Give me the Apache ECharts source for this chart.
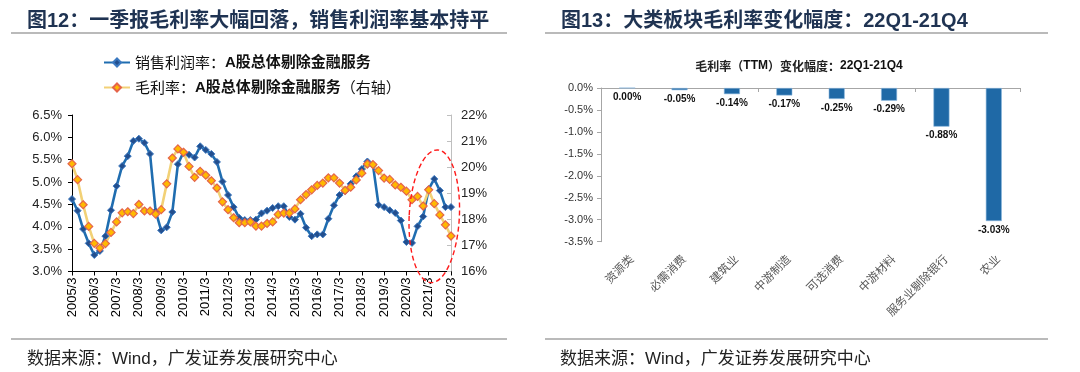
<!DOCTYPE html>
<html><head><meta charset="utf-8">
<script src="https://cdn.jsdelivr.net/npm/echarts@6/dist/echarts.min.js"></script>
<style>html,body{margin:0;padding:0;background:#fff}#c{width:1080px;height:372px}</style>
</head><body><div id="c"></div>
<script>
// ---------- data: left chart (quarterly, 2005/3 - 2022/3) ----------
const quarters = [
 '2005/3','2005/6','2005/9','2005/12','2006/3','2006/6','2006/9','2006/12',
 '2007/3','2007/6','2007/9','2007/12','2008/3','2008/6','2008/9','2008/12',
 '2009/3','2009/6','2009/9','2009/12','2010/3','2010/6','2010/9','2010/12',
 '2011/3','2011/6','2011/9','2011/12','2012/3','2012/6','2012/9','2012/12',
 '2013/3','2013/6','2013/9','2013/12','2014/3','2014/6','2014/9','2014/12',
 '2015/3','2015/6','2015/9','2015/12','2016/3','2016/6','2016/9','2016/12',
 '2017/3','2017/6','2017/9','2017/12','2018/3','2018/6','2018/9','2018/12',
 '2019/3','2019/6','2019/9','2019/12','2020/3','2020/6','2020/9','2020/12',
 '2021/3','2021/6','2021/9','2021/12','2022/3'
];
// 销售利润率 (left axis, %)
const salesMargin = [
 4.62,4.36,3.95,3.63,3.37,3.46,3.79,4.37,
 4.91,5.36,5.58,5.92,5.97,5.88,5.63,4.35,
 3.92,3.99,4.33,5.40,5.67,5.61,5.55,5.80,
 5.72,5.63,5.45,5.01,4.71,4.44,4.20,4.15,
 4.15,4.16,4.30,4.36,4.42,4.46,4.46,4.22,
 4.16,4.29,3.98,3.79,3.83,3.83,4.18,4.48,
 4.71,4.80,4.96,5.13,5.29,5.46,5.38,4.49,
 4.44,4.37,4.31,4.14,3.66,3.64,4.01,4.23,
 4.84,5.07,4.81,4.44,4.44
];
// 毛利率 (right axis, %)
const grossMargin = [
 20.13,19.52,18.56,17.73,17.08,16.90,17.07,17.50,
 17.90,18.25,18.29,18.22,18.57,18.32,18.32,18.20,
 18.37,19.36,20.35,20.70,20.57,20.03,19.61,19.84,
 19.69,19.48,19.20,18.67,18.37,18.06,17.87,17.87,
 17.90,17.74,17.74,17.84,17.90,18.19,18.24,18.24,
 18.40,18.75,18.95,19.13,19.30,19.39,19.59,19.59,
 19.39,19.11,19.23,19.51,19.77,20.12,20.10,19.87,
 19.58,19.53,19.32,19.23,19.08,18.75,18.88,18.51,
 19.13,18.60,18.17,17.79,17.36
];
// highlighted region (dashed ellipse): category-index span and left-axis value span
const highlightIndexSpan = [60.5, 69.5];
const highlightValueSpan = [2.75, 5.72];

// ---------- data: right chart ----------
const sectors = ['资源类','必需消费','建筑业','中游制造','可选消费','中游材料','服务业剔除银行','农业'];
const sectorChange = [0.00,-0.05,-0.14,-0.17,-0.25,-0.29,-0.88,-3.03];

const SANS = '"Liberation Sans", Arial, "Noto Sans CJK SC", sans-serif';
const CJK = '"Noto Sans CJK SC", "Liberation Sans", sans-serif';

const chart = echarts.init(document.getElementById('c'), null, {renderer:'canvas'});

const option = {
  backgroundColor: '#fff',
  animation: false,
  title: [
    {text:'图12：一季报毛利率大幅回落，销售利润率基本持平', left:22, top:6,
     textStyle:{fontSize:20, fontWeight:'bold', color:'#1f3352', fontFamily:SANS}},
    {text:'图13：大类板块毛利率变化幅度：22Q1-21Q4', left:556, top:6,
     textStyle:{fontSize:20, fontWeight:'bold', color:'#1f3352', fontFamily:SANS}},
    {text:'数据来源：Wind，广发证券发展研究中心', left:22, top:346,
     textStyle:{fontSize:17, fontWeight:'normal', color:'#222', fontFamily:SANS}},
    {text:'数据来源：Wind，广发证券发展研究中心', left:555, top:346,
     textStyle:{fontSize:17, fontWeight:'normal', color:'#222', fontFamily:SANS}},
    {text:'{a|毛利率（}{b|TTM}{a|）变化幅度：}{b|22Q1-21Q4}', left:794, top:55, textAlign:'center',
     textStyle:{rich:{
       a:{fontSize:12, color:'#222', fontFamily:CJK},
       b:{fontSize:12, color:'#111', fontWeight:'bold', fontFamily:SANS}
     }}}
  ],
  legend: {
    data: ['销售利润率：A股总体剔除金融服务','毛利率：A股总体剔除金融服务（右轴）'],
    orient:'vertical', left:103, top:55, padding:0, itemGap:10, itemWidth:26, itemHeight:10,
    formatter: function(name){
      const i = name.indexOf('：');
      const head = name.slice(0, i+1);
      let rest = name.slice(i+1);
      let tail = '';
      if (rest.indexOf('（') >= 0) { tail = rest.slice(rest.indexOf('（')); rest = rest.slice(0, rest.indexOf('（')); }
      return '{n|' + head + '}{b|' + rest + '}' + (tail ? '{n|' + tail + '}' : '');
    },
    textStyle:{rich:{
      n:{fontSize:15, color:'#111', fontFamily:CJK},
      b:{fontSize:15, color:'#111', fontWeight:'bold', fontFamily:SANS}
    }}
  },
  grid: [
    {left:72, top:115, width:379, height:156.5, containLabel:false},
    {left:601, top:88, width:419, height:153.7, containLabel:false}
  ],
  xAxis: [
    {type:'category', gridIndex:0, data:quarters, boundaryGap:false,
     axisLine:{lineStyle:{color:'#000', width:1}},
     axisTick:{interval:3, length:4, lineStyle:{color:'#000'}},
     axisLabel:{interval:3, rotate:90, margin:6, fontSize:13, color:'#000', fontFamily:SANS},
     splitLine:{show:false}},
    {type:'category', gridIndex:1, data:sectors, position:'top',
     axisLine:{onZero:false, lineStyle:{color:'#a6a6a6'}},
     axisTick:{show:true, length:4, inside:true, lineStyle:{color:'#a6a6a6'}},
     axisLabel:{show:false}, splitLine:{show:false}},
    {type:'category', gridIndex:1, data:sectors, position:'bottom',
     axisLine:{show:false, onZero:false}, axisTick:{show:false},
     axisLabel:{rotate:45, margin:11, fontSize:11.5, color:'#555', fontFamily:CJK, interval:0, verticalAlign:'top'},
     splitLine:{show:false}}
  ],
  yAxis: [
    {type:'value', gridIndex:0, min:3, max:6.5, interval:0.5, position:'left',
     axisLine:{show:true, lineStyle:{color:'#000'}},
     axisTick:{show:true, length:4, lineStyle:{color:'#000'}},
     axisLabel:{formatter:v=>v.toFixed(1)+'%', fontSize:13, color:'#222', margin:10, fontFamily:SANS},
     splitLine:{show:false}},
    {type:'value', gridIndex:0, min:16, max:22, interval:1, position:'right',
     axisLine:{show:true, lineStyle:{color:'#bfbfbf'}},
     axisTick:{show:true, length:4, inside:true, lineStyle:{color:'#bfbfbf'}},
     axisLabel:{formatter:v=>v+'%', fontSize:13, color:'#222', margin:10, fontFamily:SANS},
     splitLine:{show:false}},
    {type:'value', gridIndex:1, min:-3.5, max:0, interval:0.5,
     axisLine:{show:true, lineStyle:{color:'#a6a6a6'}},
     axisTick:{show:true, length:4, lineStyle:{color:'#a6a6a6'}},
     axisLabel:{formatter:v=>v.toFixed(1)+'%', fontSize:11, color:'#333', margin:8, fontFamily:SANS},
     splitLine:{show:false}}
  ],
  series: [
    {name:'销售利润率：A股总体剔除金融服务', type:'line', xAxisIndex:0, yAxisIndex:0,
     data:salesMargin, symbol:'diamond', symbolSize:7, showAllSymbol:true,
     lineStyle:{color:'#1f6db0', width:2.6},
     itemStyle:{color:'#234f8e', borderColor:'#3a78c0', borderWidth:1}},
    {name:'毛利率：A股总体剔除金融服务（右轴）', type:'line', xAxisIndex:0, yAxisIndex:1,
     data:grossMargin, symbol:'diamond', symbolSize:8, showAllSymbol:true,
     lineStyle:{color:'#f2d176', width:2.6},
     itemStyle:{color:'#ffb900', borderColor:'#e5644a', borderWidth:1.2}},
    {name:'变化幅度', type:'bar', xAxisIndex:2, yAxisIndex:2, data:sectorChange, barWidth:16,
     itemStyle:{color:'#1f69a6', borderColor:'#8db8df', borderWidth:0.6},
     label:{show:true, position:'bottom', distance:4, formatter:p=>p.value.toFixed(2)+'%',
            fontSize:10, fontWeight:'bold', color:'#111', fontFamily:SANS}}
  ],
  graphic: [
    {type:'line', shape:{x1:11, y1:33, x2:507, y2:33}, style:{stroke:'#777', lineWidth:1.2}},
    {type:'line', shape:{x1:545, y1:33, x2:1048, y2:33}, style:{stroke:'#777', lineWidth:1.2}},
    {type:'line', shape:{x1:11, y1:339, x2:507, y2:339}, style:{stroke:'#777', lineWidth:1.2}},
    {type:'line', shape:{x1:545, y1:339, x2:1048, y2:339}, style:{stroke:'#777', lineWidth:1.2}}
  ]
};
chart.setOption(option);

// dashed ellipse placed through the axes' own scales
const pA = chart.convertToPixel({xAxisIndex:0, yAxisIndex:0}, [60, highlightValueSpan[0]]);
const pB = chart.convertToPixel({xAxisIndex:0, yAxisIndex:0}, [68, highlightValueSpan[1]]);
const perIdx = (pB[0]-pA[0]) / 8;
const xL = pA[0] + (highlightIndexSpan[0]-60)*perIdx;
const xR = pA[0] + (highlightIndexSpan[1]-60)*perIdx;
chart.setOption({graphic: option.graphic.concat([
  {type:'ellipse', shape:{cx:(xL+xR)/2, cy:(pA[1]+pB[1])/2, rx:(xR-xL)/2, ry:Math.abs(pA[1]-pB[1])/2},
   rotation:-0.05, originX:(xL+xR)/2, originY:(pA[1]+pB[1])/2,
   style:{fill:'none', stroke:'#ff1a1a', lineWidth:1.4, lineDash:[5,3]}, z:100}
])});
</script></body></html>
